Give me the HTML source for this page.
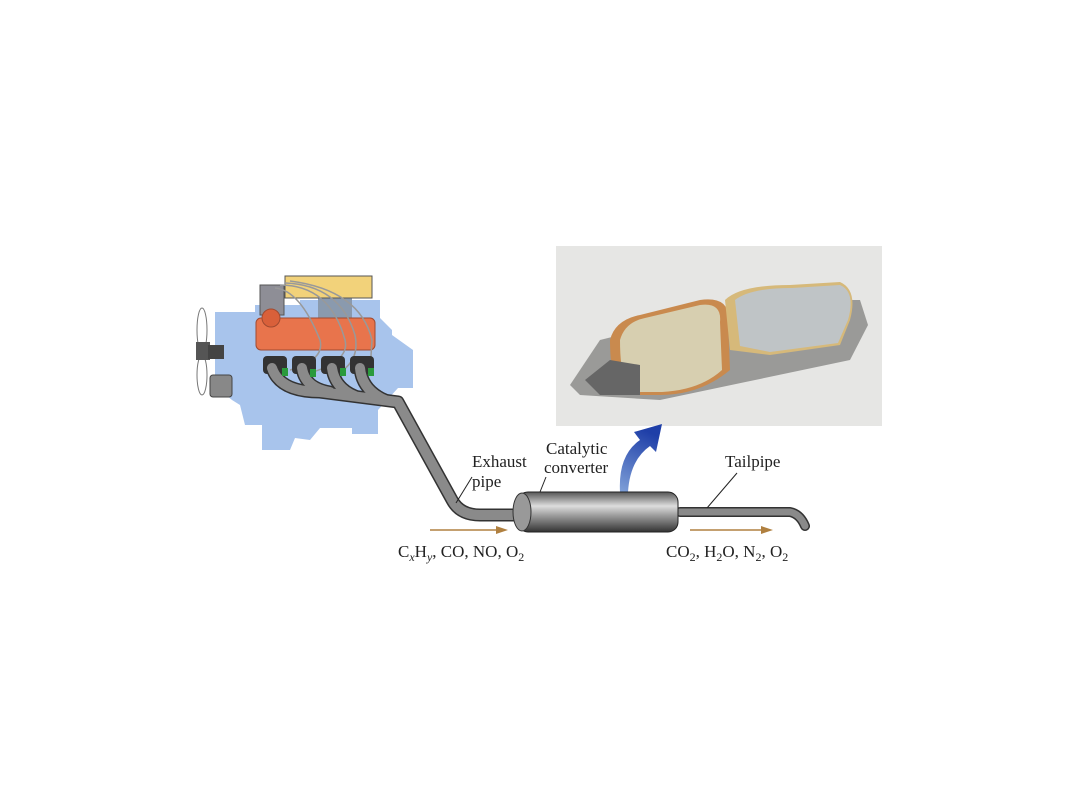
<!DOCTYPE html>
<html><head><meta charset="utf-8"><style>
html,body{margin:0;padding:0;background:#fff;}
svg{display:block}
text{font-family:"Liberation Serif",serif;fill:#222;}
</style></head><body>
<svg width="1080" height="810" viewBox="0 0 1080 810" xmlns="http://www.w3.org/2000/svg">
<defs>
<linearGradient id="cyl" x1="0" y1="0" x2="0" y2="1">
<stop offset="0" stop-color="#555"/><stop offset="0.35" stop-color="#ddd"/><stop offset="0.6" stop-color="#999"/><stop offset="1" stop-color="#333"/>
</linearGradient>
<linearGradient id="blu" x1="0" y1="1" x2="0.3" y2="0">
<stop offset="0" stop-color="#7fa0d8"/><stop offset="1" stop-color="#1f3fa8"/>
</linearGradient>
</defs>
<rect x="556" y="246" width="326" height="180" fill="#e6e6e4"/>
<path d="M570 385 L600 340 L760 300 L860 300 L868 325 L850 360 L660 400 L580 395 Z" fill="#9a9a98"/>
<path d="M610 340 Q615 320 640 315 L700 300 Q730 296 728 320 L730 370 Q700 395 660 395 L622 395 Q610 380 610 340 Z" fill="#c98a4e"/>
<path d="M620 340 Q625 322 645 318 L700 305 Q722 302 720 322 L722 370 Q700 390 662 392 L630 392 Q620 378 620 340 Z" fill="#d7cfb0"/>
<path d="M725 300 Q740 285 790 285 L840 282 Q858 290 850 320 L840 345 L770 355 L730 350 Z" fill="#d6b97a"/>
<path d="M735 300 Q750 288 792 288 L840 285 Q856 292 848 320 L838 343 L770 352 L740 346 Z" fill="#bfc4c6"/>
<path d="M585 380 L610 360 L640 365 L640 395 L600 395 Z" fill="#666"/>
<path d="M620 492 Q618 455 640 440 L634 432 L662 424 L656 452 L650 446 Q630 460 628 492 Z" fill="url(#blu)"/>
<path d="M215 312 L255 312 L255 305 L300 305 L300 300 L380 300 L380 318 L392 330 L392 335 L413 350 L413 388 L398 388 L378 410 L378 434 L352 434 L352 428 L320 428 L310 440 L295 438 L290 450 L262 450 L262 425 L245 425 L240 405 L232 400 L226 395 L222 385 L215 380 Z" fill="#a8c4ec"/>
<ellipse cx="202" cy="330" rx="5" ry="22" fill="#fff" stroke="#777"/>
<ellipse cx="202" cy="375" rx="5" ry="20" fill="#fff" stroke="#777"/>
<rect x="196" y="342" width="14" height="18" fill="#555"/>
<rect x="208" y="345" width="16" height="14" fill="#444"/>
<rect x="210" y="375" width="22" height="22" rx="3" fill="#888" stroke="#444"/>
<rect x="318" y="295" width="34" height="25" fill="#8a9aae"/>
<rect x="285" y="276" width="87" height="22" fill="#f2d27a" stroke="#555"/>
<rect x="260" y="285" width="24" height="30" fill="#8e8e96" stroke="#555"/>
<rect x="256" y="318" width="119" height="32" rx="5" fill="#e8744c" stroke="#a04a30"/>
<ellipse cx="271" cy="318" rx="9" ry="9" fill="#d9603a" stroke="#a04a30"/>
<g fill="none" stroke="#999" stroke-width="1.5">
<path d="M275 288 Q300 290 320 340 Q325 360 290 370"/>
<path d="M280 285 Q330 285 345 340 Q350 360 313 372"/>
<path d="M285 283 Q340 285 355 335 Q360 360 340 372"/>
<path d="M290 281 Q360 290 372 340 L370 372"/>
</g>
<g fill="#333"><rect x="263" y="356" width="24" height="18" rx="4"/><rect x="292" y="356" width="24" height="18" rx="4"/><rect x="321" y="356" width="24" height="18" rx="4"/><rect x="350" y="356" width="24" height="18" rx="4"/></g>
<g fill="none" stroke="#333" stroke-width="13" stroke-linecap="round" stroke-linejoin="round">
<path d="M272 368 Q280 392 320 392 L398 402 L452 500 Q460 515 480 515 L520 515"/>
<path d="M302 368 Q305 388 330 392"/><path d="M332 368 Q335 388 355 396"/><path d="M360 368 Q362 390 385 400"/>
</g>
<g fill="none" stroke="#333" stroke-width="10" stroke-linecap="round" stroke-linejoin="round"><path d="M680 512 L790 512 Q800 514 805 526"/></g>
<g fill="none" stroke="#8a8a8a" stroke-width="10" stroke-linecap="round" stroke-linejoin="round">
<path d="M272 368 Q280 392 320 392 L398 402 L452 500 Q460 515 480 515 L520 515"/>
<path d="M302 368 Q305 388 330 392"/><path d="M332 368 Q335 388 355 396"/><path d="M360 368 Q362 390 385 400"/>
</g>
<g fill="none" stroke="#8a8a8a" stroke-width="7" stroke-linecap="round" stroke-linejoin="round"><path d="M680 512 L790 512 Q800 514 805 526"/></g>
<g fill="#2a9a3c"><rect x="282" y="368" width="6" height="8"/><rect x="310" y="369" width="6" height="8"/><rect x="340" y="368" width="6" height="8"/><rect x="368" y="368" width="6" height="8"/></g>
<rect x="518" y="492" width="160" height="40" rx="10" fill="url(#cyl)" stroke="#222"/>
<ellipse cx="522" cy="512" rx="9" ry="19" fill="#999" stroke="#333"/>
<g stroke="#222" stroke-width="1"><line x1="472" y1="477" x2="456" y2="503"/><line x1="546" y1="477" x2="540" y2="492"/><line x1="737" y1="473" x2="707" y2="508"/></g>
<g stroke="#b08040" stroke-width="1.5"><line x1="430" y1="530" x2="500" y2="530"/><line x1="690" y1="530" x2="765" y2="530"/></g>
<path d="M508 530 L496 526 L496 534Z M773 530 L761 526 L761 534Z" fill="#b08040"/>
<g font-size="17">
<text x="472" y="467">Exhaust</text><text x="472" y="487">pipe</text>
<text x="546" y="454">Catalytic</text><text x="544" y="473">converter</text>
<text x="725" y="467">Tailpipe</text>
<text x="398" y="557">C<tspan font-size="12" dy="4" font-style="italic">x</tspan><tspan dy="-4">H</tspan><tspan font-size="12" dy="4" font-style="italic">y</tspan><tspan dy="-4">, CO, NO, O</tspan><tspan font-size="12" dy="4">2</tspan></text>
<text x="666" y="557">CO<tspan font-size="12" dy="4">2</tspan><tspan dy="-4">, H</tspan><tspan font-size="12" dy="4">2</tspan><tspan dy="-4">O, N</tspan><tspan font-size="12" dy="4">2</tspan><tspan dy="-4">, O</tspan><tspan font-size="12" dy="4">2</tspan></text>
</g>
</svg>
</body></html>
